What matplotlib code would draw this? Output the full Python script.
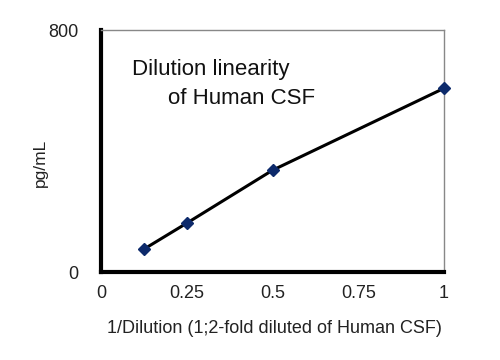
import matplotlib
matplotlib.use('Agg')
import matplotlib.pyplot as plt

plt.rcParams['font.family'] = ['Liberation Sans', 'DejaVu Sans']

# data
inv_dilution = [0.125, 0.25, 0.5, 1.0]
conc = [76, 162, 337, 608]
x_ticks = [0, 0.25, 0.5, 0.75, 1]
x_ticklabels = ['0', '0.25', '0.5', '0.75', '1']
y_ticks = [0, 800]

fig = plt.figure(figsize=(5, 3.6), dpi=100)
ax = fig.add_axes([0.202, 0.244, 0.686, 0.672])

ax.plot(inv_dilution, conc, color='black', linewidth=2.2, marker='D',
        markersize=6.5, markerfacecolor='#0d2a6b', markeredgecolor='#0d2a6b',
        clip_on=False, zorder=3)

ax.set_xlim(0, 1)
ax.set_ylim(0, 800)
ax.set_xticks(x_ticks)
ax.set_xticklabels(x_ticklabels)
ax.set_yticks(y_ticks)
ax.tick_params(length=0, labelsize=13, colors='#222222')
ax.tick_params(axis='x', pad=9)
ax.tick_params(axis='y', pad=16)

for side in ['left', 'bottom']:
    ax.spines[side].set_linewidth(3)
    ax.spines[side].set_color('black')
for side in ['top', 'right']:
    ax.spines[side].set_linewidth(1)
    ax.spines[side].set_color('#888888')

ax.set_xlabel('1/Dilution (1;2-fold diluted of Human CSF)', fontsize=13, color='#222222')
ax.xaxis.set_label_coords(0.505, -0.198)
ax.set_ylabel('pg/mL', fontsize=12.5, color='#222222')
ax.yaxis.set_label_coords(-0.155, 0.45)

ax.text(0.090, 0.814, 'Dilution linearity', transform=ax.transAxes,
        fontsize=16, va='baseline', ha='left', color='#111111')
ax.text(0.195, 0.694, 'of Human CSF', transform=ax.transAxes,
        fontsize=16, va='baseline', ha='left', color='#111111')

fig.savefig('out.png', dpi=100)
